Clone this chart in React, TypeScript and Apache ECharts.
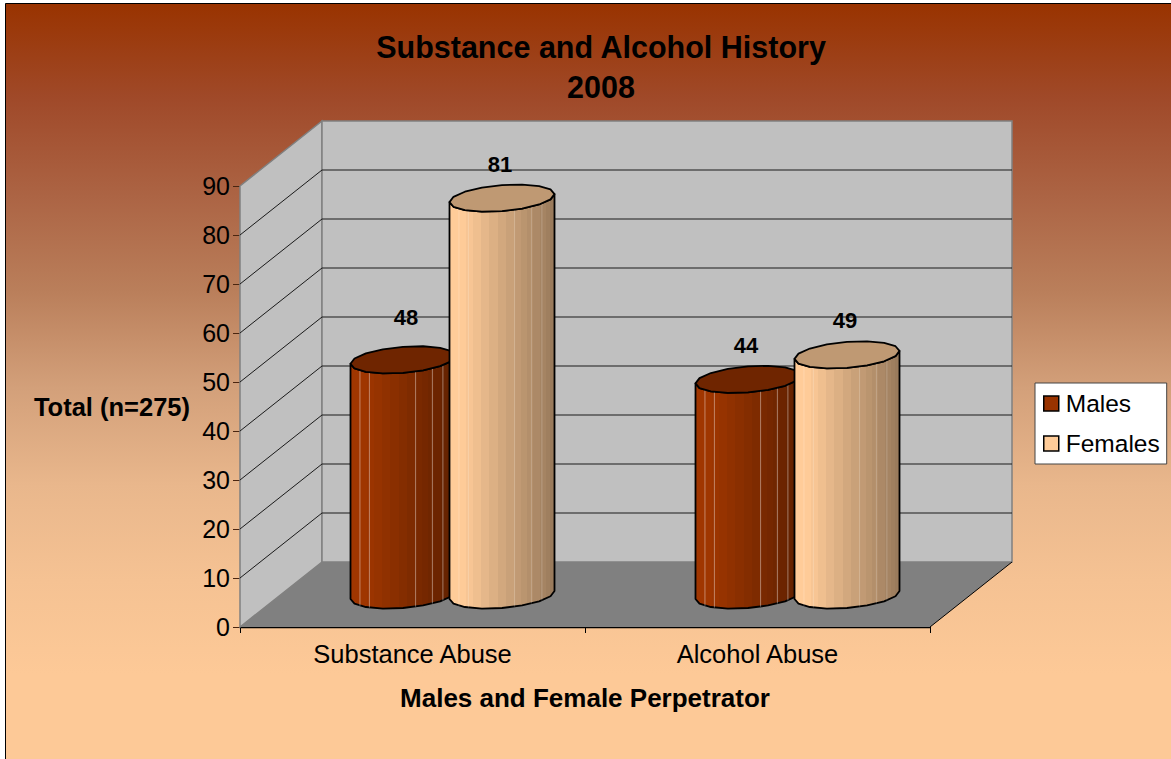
import React, { useEffect, useRef } from "react";
import * as echarts from "echarts";

const TITLE = "Substance and Alcohol History\n2008";
const CATEGORIES = ["Substance Abuse", "Alcohol Abuse"];
const MALES = [48, 44];
const FEMALES = [81, 49];
const Y_TICKS = [10, 20, 30, 40, 50, 60, 70, 80];
const Y_AXIS_NAME = "Total (n=275)";
const X_AXIS_NAME = "Males and Female Perpetrator";

const FONT = '"Liberation Sans", Arial, sans-serif';
const DEPTH_X = 82;
const DEPTH_Y = 65;
const BAR_DX = 40;
const BAR_DY = 32;
const BAR_W = 105;
const CAP_RY = 13;
const CAP_SHEAR = 4;
const FACET_LINES = [0.09, 0.18, 0.62, 0.78, 0.88];

const shade = (rgb: number[], f: number) =>
  `rgb(${rgb.map((c) => Math.round(c * f)).join(",")})`;

function facetStops(rgb: number[]) {
  const edges = [0, 0.05, 0.1, 0.16, 0.22, 0.3, 0.38, 0.46, 0.54, 0.62, 0.68, 0.74, 0.8, 0.86, 0.92, 0.96, 1];
  const stops: { offset: number; color: string }[] = [];
  for (let i = 0; i < edges.length - 1; i++) {
    const mid = (edges[i] + edges[i + 1]) / 2;
    const f = mid < 0.12 ? 1 : 1 - (mid - 0.12) * 0.46;
    stops.push({ offset: edges[i], color: shade(rgb, f) });
    stops.push({ offset: edges[i + 1], color: shade(rgb, f) });
  }
  return stops;
}

function ringPoint(cx: number, cy: number, a: number, t: number) {
  return [
    cx + a * Math.cos(t),
    cy + CAP_RY * Math.sin(t) - CAP_SHEAR * Math.cos(t),
  ];
}

function cylinder(offset: number, rgb: number[], capRgb: string, lineAlpha: number, nudges: number[][]) {
  return (params: any, api: any) => {
    const idx = api.value(0);
    const val = api.value(1);
    const top = api.coord([idx, val]);
    const base = api.coord([idx, 0]);
    const cx = top[0] + BAR_DX + offset;
    const topY = top[1] - BAR_DY;
    const baseY = base[1] - BAR_DY;
    const a = BAR_W / 2;
    const N = 8;
    const front: number[][] = [];
    const frontBase: number[][] = [];
    const cap: number[][] = [];
    for (let i = 0; i <= N; i++) {
      const t = (Math.PI * i) / N;
      front.push(ringPoint(cx, topY, a, t));
      frontBase.push(ringPoint(cx, baseY, a, t));
    }
    for (let i = 0; i < N * 2; i++) {
      cap.push(ringPoint(cx, topY, a, (Math.PI * i) / N));
    }
    const body = [...front, ...frontBase.slice().reverse()];
    const nudge = nudges[params.dataIndex];
    const facetLines = FACET_LINES.map((p) => {
      const lx = cx - a + p * BAR_W;
      const t = Math.acos((lx - cx) / a);
      const yOff = CAP_RY * Math.sin(t) - (CAP_SHEAR * (lx - cx)) / a;
      return {
        type: "line",
        shape: { x1: lx, y1: topY + yOff, x2: lx, y2: baseY + yOff },
        style: { stroke: `rgba(255,255,255,${lineAlpha})`, lineWidth: 1 },
      };
    });
    return {
      type: "group",
      children: [
        {
          type: "polygon",
          shape: { points: body },
          style: {
            fill: {
              type: "linear",
              x: 0,
              y: 0,
              x2: 1,
              y2: 0,
              colorStops: facetStops(rgb),
            },
            stroke: "#000",
            lineWidth: 1.8,
            lineJoin: "round",
          },
        },
        ...facetLines,
        {
          type: "polygon",
          shape: { points: cap },
          style: { fill: capRgb, stroke: "#000", lineWidth: 1.8, lineJoin: "round" },
        },
        {
          type: "text",
          style: {
            text: String(val),
            x: cx + nudge[0],
            y: topY - 34 + nudge[1],
            fill: "#000",
            font: `bold 22px ${FONT}`,
            align: "center",
            verticalAlign: "middle",
          },
        },
      ],
    };
  };
}

export default function App() {
  const ref = useRef<HTMLDivElement>(null);

  useEffect(() => {
    const chart = echarts.init(ref.current!, null, { renderer: "svg" });
    chart.setOption({
      animation: false,
      backgroundColor: "#ffffff",
      title: {
        text: TITLE,
        left: 596,
        top: 22,
        textAlign: "center",
        textStyle: {
          fontFamily: FONT,
          fontWeight: "bold",
          fontSize: 30.5,
          lineHeight: 40,
          color: "#000",
        },
      },
      graphic: [
        {
          type: "rect",
          z: -10,
          shape: { x: 5.5, y: 3.5, width: 1190, height: 780 },
          style: {
            stroke: "#000",
            lineWidth: 1,
            fill: {
              type: "linear",
              x: 0,
              y: 0,
              x2: 0,
              y2: 1,
              colorStops: [
                { offset: 0, color: "#993300" },
                { offset: 0.125, color: "#A04A2A" },
                { offset: 0.247, color: "#AC6444" },
                { offset: 0.37, color: "#BA7F5B" },
                { offset: 0.493, color: "#D3A07A" },
                { offset: 0.618, color: "#E9B78C" },
                { offset: 0.74, color: "#F5C293" },
                { offset: 0.86, color: "#FDC997" },
                { offset: 1, color: "#FDC997" },
              ],
            },
          },
        },
      ],
      legend: {
        data: [
          { name: "Males", itemStyle: { color: "#993300", borderColor: "#000", borderWidth: 1.5 } },
          { name: "Females", itemStyle: { color: "#FFCC99", borderColor: "#000", borderWidth: 1.5 } },
        ],
        orient: "vertical",
        left: 1035,
        top: 383,
        icon: "rect",
        itemWidth: 15,
        itemHeight: 15,
        itemGap: 13,
        padding: [7, 7, 7, 8],
        backgroundColor: "#fff",
        borderColor: "#444",
        borderWidth: 1,
        textStyle: {
          fontFamily: FONT,
          fontSize: 24.5,
          lineHeight: 27,
          color: "#000",
          padding: [0, 0, 0, 2],
        },
      },
      grid: { left: 240, top: 186, width: 690, height: 441, containLabel: false },
      xAxis: {
        type: "category",
        data: CATEGORIES,
        name: X_AXIS_NAME,
        nameLocation: "middle",
        nameGap: 58,
        nameTextStyle: { fontFamily: FONT, fontWeight: "bold", fontSize: 26, color: "#000" },
        axisLine: { lineStyle: { color: "#000", width: 1.4 } },
        axisTick: { show: true, alignWithLabel: false, length: 6, lineStyle: { color: "#000" } },
        axisLabel: { fontFamily: FONT, fontSize: 25.5, color: "#000", margin: 14 },
        splitLine: { show: false },
      },
      yAxis: {
        type: "value",
        min: 0,
        max: 90,
        interval: 10,
        name: Y_AXIS_NAME,
        nameLocation: "middle",
        nameRotate: 0,
        nameGap: 50,
        nameTextStyle: { fontFamily: FONT, fontWeight: "bold", fontSize: 25.5, color: "#000" },
        axisLine: { show: true, lineStyle: { color: "#333", width: 1 } },
        axisTick: { show: true, length: 7, lineStyle: { color: "#4a2510" } },
        axisLabel: { fontFamily: FONT, fontSize: 25, color: "#000", margin: 10, padding: [0, 0, 6, 0] },
        splitLine: { show: false },
      },
      series: [
        {
          name: "walls",
          type: "custom",
          silent: true,
          clip: false,
          z: 1,
          data: [[0, 0]],
          renderItem: (params: any) => {
            const { x, y, width: w, height: h } = params.coordSys;
            const b = y + h;
            return {
              type: "group",
              children: [
                {
                  type: "polygon",
                  shape: {
                    points: [
                      [x, y],
                      [x + DEPTH_X, y - DEPTH_Y],
                      [x + DEPTH_X, b - DEPTH_Y],
                      [x, b],
                    ],
                  },
                  style: { fill: "#C0C0C0", stroke: "#808080", lineWidth: 1.5 },
                },
                {
                  type: "rect",
                  shape: { x: x + DEPTH_X, y: y - DEPTH_Y, width: w, height: h },
                  style: { fill: "#C0C0C0", stroke: "#808080", lineWidth: 1.5 },
                },
                {
                  type: "polygon",
                  shape: {
                    points: [
                      [x, b],
                      [x + DEPTH_X, b - DEPTH_Y],
                      [x + w + DEPTH_X, b - DEPTH_Y],
                      [x + w, b],
                    ],
                  },
                  style: { fill: "#808080" },
                },
                {
                  type: "line",
                  shape: { x1: x + w, y1: b, x2: x + w + DEPTH_X, y2: b - DEPTH_Y },
                  style: { stroke: "#000", lineWidth: 1 },
                },
              ],
            };
          },
        },
        {
          name: "gridlines",
          type: "custom",
          silent: true,
          clip: false,
          z: 2,
          data: Y_TICKS.map((v) => [0, v]),
          renderItem: (params: any, api: any) => {
            const { x, width: w } = params.coordSys;
            const yy = api.coord([0, api.value(1)])[1];
            return {
              type: "polyline",
              shape: {
                points: [
                  [x, yy],
                  [x + DEPTH_X, yy - DEPTH_Y],
                  [x + w + DEPTH_X, yy - DEPTH_Y],
                ],
              },
              style: { fill: "none", stroke: "#1a1a1a", lineWidth: 1 },
            };
          },
        },
        {
          name: "Males",
          type: "custom",
          clip: false,
          z: 3,
          itemStyle: { color: "#993300" },
          data: MALES.map((v, i) => [i, v]),
          encode: { x: 0, y: 1 },
          renderItem: cylinder(-49.5, [160, 54, 0], "#6F2500", 0.4, [[3, -8], [-2, 0]]),
        },
        {
          name: "Females",
          type: "custom",
          clip: false,
          z: 4,
          itemStyle: { color: "#FFCC99" },
          data: FEMALES.map((v, i) => [i, v]),
          encode: { x: 0, y: 1 },
          renderItem: cylinder(49.5, [255, 204, 153], "#BF9973", 0.2, [[-2, 0], [-2, 0]]),
        },
      ],
    });
    return () => chart.dispose();
  }, []);

  return (
    <div
      ref={ref}
      style={{ position: "fixed", left: 0, top: 0, width: 1171, height: 759 }}
    />
  );
}
